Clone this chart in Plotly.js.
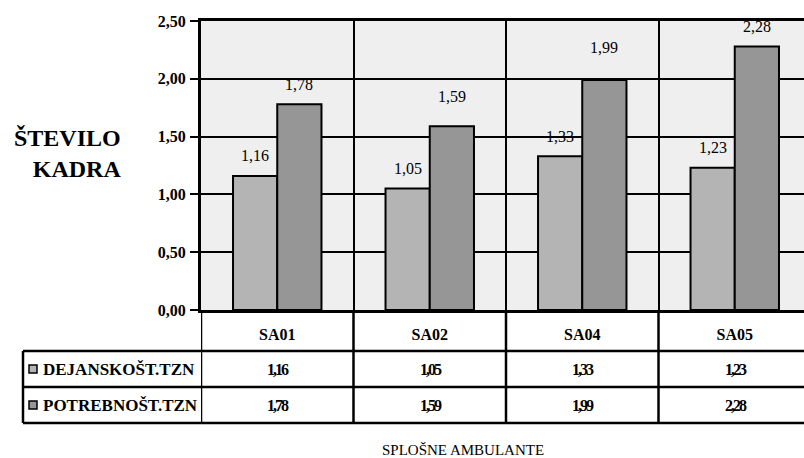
<!DOCTYPE html>
<html>
<head>
<meta charset="utf-8">
<script src="https://cdn.plot.ly/plotly-3.0.1.min.js"></script>
<style>
  html, body { margin: 0; padding: 0; background: #fff; overflow: hidden; }
  #chart { width: 804px; height: 458px; }
</style>
</head>
<body>
<div id="chart"></div>
<script>
// Staffing per general outpatient clinic: actual vs required number of staff
const categories = ['SA01', 'SA02', 'SA04', 'SA05'];
const seriesNames = ['DEJANSKOŠT.TZN', 'POTREBNOŠT.TZN'];
const actualStaff = [1.16, 1.05, 1.33, 1.23];
const requiredStaff = [1.78, 1.59, 1.99, 2.28];
const yTickValues = [0, 0.5, 1, 1.5, 2, 2.5];
const yAxisTitle = 'ŠTEVILO<br>KADRA';
const xAxisTitle = 'SPLOŠNE AMBULANTE';

// ---- styling ----
const SERIF = '"Liberation Serif", "Times New Roman", serif';
const SERIES_COLORS = ['#b4b4b4', '#969696'];
const BG = '#efefef';

// page geometry (px)
const W = 804, H = 458;
const M = { l: 201, r: 0, t: 21, b: 148 };
const PLOT_W = W - M.l - M.r;
const PLOT_H = H - M.t - M.b;
const CAT_W = 152.5;                       // width of one category slot
const X_MAX = -0.5 + PLOT_W / CAT_W;       // last slot runs past the page edge
const BARGAP = 0.42;
const HALF = (1 - BARGAP) / 4;             // offset of each bar centre from slot centre

// pixel -> paper helpers for the data table under the plot
const paperY = p => (H - M.b - p) / PLOT_H;
const paperX = p => (p - M.l) / PLOT_W;

// data table rows (pixel positions of rule lines)
const ROW_LINES = [351, 387, 423];
const TABLE_LEFT = 23;
const rowCentre = r => (ROW_LINES[r] + ROW_LINES[r + 1]) / 2;

// extra lift for a few bar labels that sit higher
const LABEL_LIFT = [[0, 0, 0, 0], [0, 10, 12, 0]];

const fmt = v => v.toFixed(2).replace('.', ',');
const series = [actualStaff, requiredStaff];

const traces = series.map((vals, s) => ({
  type: 'bar',
  name: seriesNames[s],
  x: categories,
  y: vals,
  marker: { color: SERIES_COLORS[s], line: { color: '#000', width: 2 } },
  hoverinfo: 'skip'
}));

const annotations = [];
const shapes = [];
const tightAnnotations = [];   // indexes of annotations with tight spacing

// value labels above bars
series.forEach((vals, s) => {
  vals.forEach((v, i) => {
    annotations.push({
      xref: 'x', yref: 'y',
      x: i + (s === 0 ? -HALF : HALF), y: v,
      text: fmt(v), showarrow: false,
      yanchor: 'middle', yshift: 20 + LABEL_LIFT[s][i],
      font: { family: SERIF, size: 16, color: '#000' }
    });
  });
});

// table: values
series.forEach((vals, s) => {
  vals.forEach((v, i) => {
    tightAnnotations.push(annotations.length);
    annotations.push({
      xref: 'x', yref: 'paper',
      x: i, y: paperY(rowCentre(s)),
      text: fmt(v), showarrow: false, yanchor: 'middle',
      font: { family: SERIF, size: 16, color: '#000', weight: 'bold' }
    });
  });
});

// table: row labels with legend keys
seriesNames.forEach((name, s) => {
  annotations.push({
    xref: 'paper', yref: 'paper',
    x: paperX(41), y: paperY(rowCentre(s)),
    xanchor: 'left', yanchor: 'middle',
    text: name, showarrow: false,
    font: { family: SERIF, size: 17, color: '#000', weight: 'bold' }
  });
  const yc = rowCentre(s);
  shapes.push({
    type: 'rect', xref: 'paper', yref: 'paper',
    x0: paperX(29), x1: paperX(37), y0: paperY(yc + 4), y1: paperY(yc - 4),
    fillcolor: SERIES_COLORS[s], line: { color: '#000', width: 1.5 }
  });
});

// table rule lines
ROW_LINES.forEach(p => {
  shapes.push({
    type: 'line', xref: 'paper', yref: 'paper',
    x0: paperX(TABLE_LEFT), x1: 1.02, y0: paperY(p), y1: paperY(p),
    line: { color: '#000', width: 2.5 }
  });
});
shapes.push({
  type: 'line', xref: 'paper', yref: 'paper',
  x0: paperX(TABLE_LEFT), x1: paperX(TABLE_LEFT),
  y0: paperY(ROW_LINES[0]), y1: paperY(ROW_LINES[2]),
  line: { color: '#000', width: 2.5 }
});
categories.forEach((c, i) => {
  shapes.push({
    type: 'line', xref: 'x', yref: 'paper',
    x0: i - 0.5, x1: i - 0.5, y0: 0, y1: paperY(ROW_LINES[2]),
    line: { color: '#000', width: 2.5 }
  });
});

// axis titles
annotations.push({
  xref: 'paper', yref: 'paper',
  x: paperX(123), y: paperY(154),
  xanchor: 'right', yanchor: 'middle', align: 'right',
  text: yAxisTitle, showarrow: false,
  font: { family: SERIF, size: 24, color: '#000', weight: 'bold' }
});
annotations.push({
  xref: 'paper', yref: 'paper',
  x: paperX(463), y: paperY(450),
  xanchor: 'center', yanchor: 'middle',
  text: xAxisTitle, showarrow: false,
  font: { family: SERIF, size: 15, color: '#000' }
});

const layout = {
  width: W, height: H,
  margin: { l: M.l, r: M.r, t: M.t, b: M.b, pad: 0 },
  paper_bgcolor: '#fff',
  plot_bgcolor: BG,
  separators: ', ',
  barmode: 'group', bargap: BARGAP, bargroupgap: 0,
  showlegend: false,
  font: { family: SERIF, color: '#000' },
  xaxis: {
    type: 'category', range: [-0.5, X_MAX],
    tickson: 'boundaries', ticks: '',
    showgrid: true, gridcolor: '#000', gridwidth: 2,
    showline: true, linecolor: '#000', linewidth: 3, mirror: true,
    tickfont: { family: SERIF, size: 16, color: '#000', weight: 'bold' },
    ticklabelstandoff: 8,
    fixedrange: true
  },
  yaxis: {
    range: [0, 2.5], tickvals: yTickValues, tickformat: '.2f',
    showgrid: true, gridcolor: '#000', gridwidth: 2,
    zeroline: false,
    showline: true, linecolor: '#000', linewidth: 3,
    ticks: 'outside', ticklen: 8, tickwidth: 2, tickcolor: '#000',
    tickfont: { family: SERIF, size: 16, color: '#000', weight: 'bold' },
    ticklabelstandoff: 1,
    fixedrange: true
  },
  annotations: annotations,
  shapes: shapes
};

Plotly.newPlot('chart', traces, layout, { displayModeBar: false, staticPlot: true })
  .then(gd => {
    // tighter letter spacing for the table figures
    tightAnnotations.forEach(k => {
      gd.querySelectorAll('.annotation[data-index="' + k + '"] text').forEach(t => { t.style.letterSpacing = '-2px'; });
    });
  });
</script>
</body>
</html>
